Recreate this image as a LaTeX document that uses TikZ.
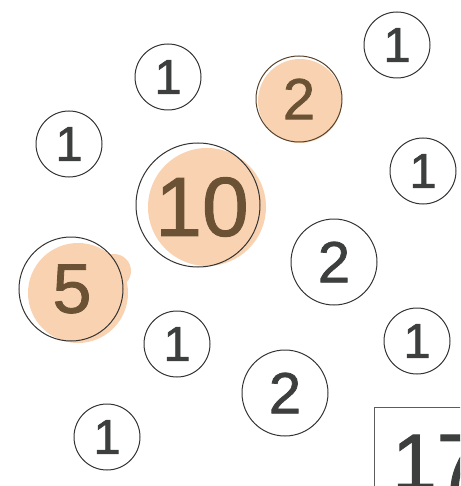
\documentclass[tikz,border=0pt]{standalone}
\usepackage{fontspec}
\setmainfont{Liberation Sans}
\newfontfamily\digitfont[FakeBold=1.2]{Liberation Sans}
\definecolor{peach}{HTML}{F9D3B1}
\definecolor{ink}{HTML}{3C3F3E}
\definecolor{brownink}{HTML}{6B5234}
\definecolor{ring}{HTML}{333333}
\tikzset{
  ringnode/.style={circle, draw=ring, line width=1pt, inner sep=0pt, text=ink},
  onering/.style={ringnode, minimum size=66pt, font=\digitfont\fontsize{49}{49}\selectfont},
  tworing/.style={ringnode, minimum size=86pt, font=\digitfont\fontsize{58}{58}\selectfont},
  blob/.style={fill=peach, draw=none},
  totalbox/.style={draw=ring!80, line width=1.2pt, rectangle, anchor=north west, minimum width=100pt, minimum height=100pt, inner sep=0pt}
}
\begin{document}
\begin{tikzpicture}[x=1pt,y=-1pt]
\useasboundingbox (0,0) rectangle (460,486);
\clip (0,0) rectangle (460,486);
% peach fills
\fill[blob] (207,207) circle (59);
\fill[blob] (78,293) circle (50);
\fill[blob] (114,271) circle (17);
\fill[blob] (300,101) circle (42);
% circles
\node[onering] (a) at (168,77) {1};
\node[onering] (b) at (397,45) {1};
\node[tworing, text=brownink, draw=brownink!80!black] (c) at (299,99) {2};
\node[onering] (d) at (69,144) {1};
\node[onering] (e) at (423,171) {1};
\node[ringnode, minimum size=124pt] (f) at (198,205) {};
\node[text=brownink, font=\digitfont\fontsize{84}{84}\selectfont, inner sep=0pt] (ften) at (202,207) {10};
\node[tworing] (g) at (334,262) {2};
\node[ringnode, minimum size=104pt] (h) at (71,289) {};
\node[text=brownink, font=\digitfont\fontsize{70}{70}\selectfont, inner sep=0pt] (hfive) at (72,289) {5};
\node[onering] (i) at (177,344) {1};
\node[onering] (j) at (417,341) {1};
\node[tworing] (k) at (285,393) {2};
\node[onering] (l) at (107,437) {1};
% total box
\node[totalbox] (box) at (374,407) {};
\node[anchor=base west, inner sep=0pt, text=ink, font=\digitfont\fontsize{80}{80}\selectfont] (total) at (392,490) {17};
\end{tikzpicture}
\end{document}
